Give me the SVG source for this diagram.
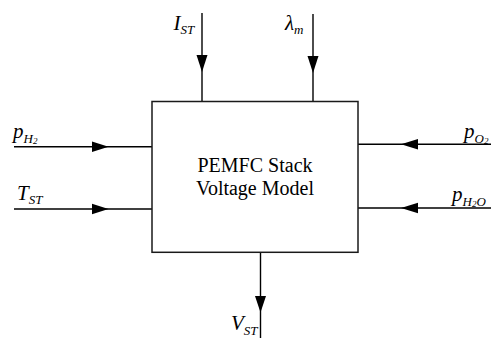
<svg xmlns="http://www.w3.org/2000/svg" width="491" height="338" viewBox="0 0 491 338">
<style>
.ln{stroke:#000;stroke-width:1.4;fill:none}
.ah{fill:#000;stroke:none}
.box{fill:#fff;stroke:#1a1a1a;stroke-width:1.5}
.t{font-family:"Liberation Serif","Times New Roman",serif;fill:#000}
.it{font-family:"Liberation Serif","Times New Roman",serif;font-style:italic;fill:#000}
</style>
<rect width="491" height="338" fill="#fff"/>
<g id="connectors">
<line class="ln" x1="202" y1="13" x2="202" y2="101.5"/>
<polygon class="ah" points="196.5,55 207.5,55 202,72"/>
<line class="ln" x1="313" y1="14" x2="313" y2="101.5"/>
<polygon class="ah" points="307.5,56 318.5,56 313,73"/>
<line class="ln" x1="14" y1="146.7" x2="152" y2="146.7"/>
<polygon class="ah" points="92,141.5 92,152 108.5,146.7"/>
<line class="ln" x1="14" y1="209" x2="152" y2="209"/>
<polygon class="ah" points="92,203.8 92,214.3 108.5,209"/>
<line class="ln" x1="358" y1="144.3" x2="491" y2="144.3"/>
<polygon class="ah" points="418,139 418,149.5 401,144.3"/>
<line class="ln" x1="358" y1="208" x2="491" y2="208"/>
<polygon class="ah" points="418,202.8 418,213.3 401,208"/>
<line class="ln" x1="260.5" y1="252" x2="260.5" y2="338"/>
<polygon class="ah" points="255,296 266,296 260.5,312.5"/>
</g>
<g id="stack">
<rect class="box" x="152" y="101.5" width="206" height="150.8"/>
<text class="t" x="255" y="172" font-size="20" text-anchor="middle">PEMFC Stack</text>
<text class="t" x="255" y="195" font-size="20" text-anchor="middle">Voltage Model</text>
</g>
<g id="label-ist">
<text class="it" x="173.5" y="29.5" font-size="21">I<tspan font-size="13" dy="4.5">ST</tspan></text>
</g>
<g id="label-lambda">
<text class="it" x="285" y="29.5" font-size="21">λ<tspan font-size="13" dy="4">m</tspan></text>
</g>
<g id="label-ph2">
<text class="it" x="13" y="137.5" font-size="21">p<tspan font-size="13" dy="5">H</tspan><tspan font-size="9" dy="1">2</tspan></text>
</g>
<g id="label-tst">
<text class="it" x="17" y="200" font-size="21">T<tspan font-size="13" dy="4">ST</tspan></text>
</g>
<g id="label-po2">
<text class="it" x="464" y="137.5" font-size="21">p<tspan font-size="13" dy="5">O</tspan><tspan font-size="9" dy="1">2</tspan></text>
</g>
<g id="label-ph2o">
<text class="it" x="452" y="201" font-size="21">p<tspan font-size="13" dy="5">H</tspan><tspan font-size="9" dy="1">2</tspan><tspan font-size="13" dy="-1">O</tspan></text>
</g>
<g id="label-vst">
<text class="it" x="231" y="330" font-size="21">V<tspan font-size="13" dy="4.5">ST</tspan></text>
</g>
</svg>
